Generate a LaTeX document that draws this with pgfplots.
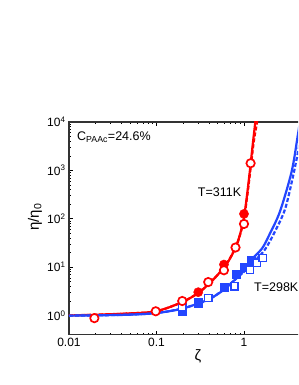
\documentclass[border=0pt]{standalone}
\usepackage{fontspec}
\setmainfont{Liberation Sans}
\usepackage{pgfplots}
\pgfplotsset{compat=1.18}
\definecolor{myred}{RGB}{255,0,0}
\definecolor{myblue}{RGB}{35,70,255}
\begin{document}
\begin{tikzpicture}[x=1pt,y=1pt]
\useasboundingbox (-69,-50.3) rectangle (229,334.7);
\clip (-69,-50.3) rectangle (229,334.7);
\begin{axis}[
  at={(0,0)}, anchor=south west,
  scale only axis, width=262.5pt, height=212.7pt,
  xmode=log, ymode=log,
  xmin=0.01, xmax=10, ymin=0.4, ymax=10000,
  xtick={0.01,0.1,1}, xticklabels={0.01,0.1,1},
  ytick={1,10,100,1000,10000},
  yticklabels={10\textsuperscript{0},10\textsuperscript{1},10\textsuperscript{2},10\textsuperscript{3},10\textsuperscript{4}},
  tick label style={font=\fontsize{12}{14}\selectfont},
  axis line style={black!80, line width=1.2pt},
  major tick length=4pt, minor tick length=2pt,
  tick style={black, line width=0.6pt},
  clip=true,
]
% red solid
\addplot[myred, line width=2.2pt, smooth] coordinates {
(0.01,1.0)(0.0195,1.03)(0.0437,1.09)(0.0987,1.22)(0.1956,1.88)(0.298,2.89)(0.388,4.33)(0.479,6.35)(0.59,9.77)(0.692,15.0)(0.80,25.4)(0.90,47.2)(1.0,106)(1.096,368)(1.193,1403)(1.267,3830)(1.346,10000)(1.37,15000)};
% red dashed
\addplot[myred, line width=2.2pt, smooth, dash pattern=on 4pt off 2pt] coordinates {
(0.01,1.0)(0.0437,1.09)(0.0987,1.22)(0.1956,1.88)(0.298,2.89)(0.388,4.33)(0.59,9.7)(0.80,25)(0.90,46)(1.0,100)(1.1,340)(1.2,1250)(1.3,4200)(1.41,10000)(1.44,15000)};
% blue solid
\addplot[myblue, line width=2.2pt, smooth] coordinates {
(0.01,0.99)(0.0437,1.03)(0.0987,1.12)(0.1956,1.38)(0.388,2.12)(0.59,3.41)(0.81,5.77)(1.0,8.46)(1.156,13.0)(1.606,24.2)(1.98,49.5)(2.58,142)(3.51,960)(4.14,5610)(4.6,18600)};
% blue dashed
\addplot[myblue, line width=2.2pt, smooth, dash pattern=on 4pt off 2pt] coordinates {
(0.01,0.99)(0.0987,1.12)(0.388,2.1)(1.0,8.0)(1.336,13.6)(1.738,23.1)(2.26,54.5)(2.94,156)(3.57,654)(4.14,2377)(4.98,14600)};
% blue filled squares
\addplot[only marks, mark=square*, mark size=4.1pt, mark options={fill=myblue, draw=myblue}] coordinates {
(0.197,1.25)(0.30,1.83)(0.59,3.9)(0.81,7.1)(1.0,9.8)(1.2,13.5)};
% blue open squares
\addplot[only marks, mark=square*, mark size=3.6pt, mark options={fill=white, draw=myblue, line width=1.5pt}] coordinates {
(0.197,1.5)(0.39,2.3)(0.78,4.0)(1.17,8.7)(1.4,12.1)(1.64,15.5)};
% red filled circles
\addplot[only marks, mark=*, mark size=4.6pt, mark options={fill=myred, draw=myred}] coordinates {
(0.30,3.03)(0.59,11.3)(1.0,126)};
% red open circles
\addplot[only marks, mark=*, mark size=4.2pt, mark options={fill=white, draw=myred, line width=1.7pt}] coordinates {
(0.0195,0.88)(0.098,1.22)(0.197,1.99)(0.39,4.9)(0.59,8.6)(0.80,25.4)(1.0,78)(1.19,1404)};
\end{axis}
\node[anchor=west, inner sep=0, font=\fontsize{12.5}{14}\selectfont] at (8,197.7) {C\textsubscript{PAAc}=24.6\%};
\node[inner sep=0, font=\fontsize{12.5}{14}\selectfont] at (150.5,143) {T=311K};
\node[anchor=west, inner sep=0, font=\fontsize{12.5}{14}\selectfont] at (185,48) {T=298K};
\node[rotate=90, inner sep=0, font=\fontsize{15}{17}\selectfont] at (-34,117.7) {η/η\textsubscript{0}};
\node[inner sep=0, font=\fontsize{15}{17}\selectfont] at (129,-22) {ζ};
\end{tikzpicture}
\end{document}
